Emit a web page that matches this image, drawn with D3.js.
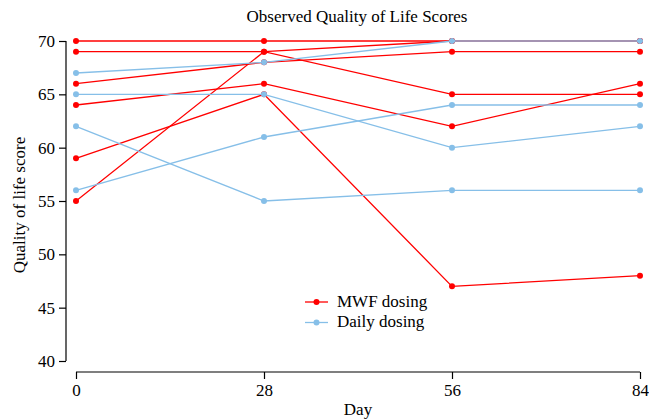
<!DOCTYPE html>
<html>
<head>
<meta charset="utf-8">
<script src="https://cdn.jsdelivr.net/npm/d3@7"></script>
<style>
  body { margin: 0; background: #fff; }
  svg { display: block; font-family: "Liberation Serif", "DejaVu Serif", serif; }
</style>
</head>
<body>
<svg id="chart" width="649" height="420"></svg>
<script>
// Visit days
const days = [0, 28, 56, 84];
const xTicks = [0, 28, 56, 84];
const yTicks = [40, 45, 50, 55, 60, 65, 70];

// Quality of life scores per subject, one array per subject (days 0, 28, 56, 84)
const mwfSubjects = [
  [70, 70, 70, 70],
  [69, 69, 70, 70],
  [55, 69, 65, 65],
  [66, 68, 69, 69],
  [64, 66, 62, 66],
  [59, 65, 47, 48]
];
const dailySubjects = [
  [67, 68, 70, 70],
  [65, 65, 60, 62],
  [62, 55, 56, 56],
  [56, 61, 64, 64]
];

const groups = [
  { name: "MWF dosing", color: "#ff0000", subjects: mwfSubjects },
  { name: "Daily dosing", color: "#86bfe8", subjects: dailySubjects }
];

const FONT = "17px";
const svg = d3.select("#chart");
const x = d3.scaleLinear().domain([0, 84]).range([76, 640]);
const y = d3.scaleLinear().domain([40, 70]).range([361, 41]);

// Y axis (detached from the x axis)
const yAxis = svg.append("g")
  .attr("transform", "translate(66,0)")
  .call(d3.axisLeft(y).tickValues(yTicks).tickSize(7).tickPadding(4).tickFormat(d3.format("d")));
// X axis
const xAxis = svg.append("g")
  .attr("transform", "translate(0,372)")
  .call(d3.axisBottom(x).tickValues(xTicks).tickSize(7).tickPadding(5).tickFormat(d3.format("d")));

[yAxis, xAxis].forEach(g => {
  g.select(".domain").attr("stroke", "#000").attr("stroke-width", 1.2);
  g.selectAll(".tick line").attr("stroke", "#000").attr("stroke-width", 1.2);
  g.selectAll(".tick text").attr("fill", "#000")
    .style("font-family", "Liberation Serif, serif").style("font-size", FONT);
});
// plain axis lines without the outer tick hooks
yAxis.select(".domain").attr("d", `M0,${y(70)}V${y(40)}`);
xAxis.select(".domain").attr("d", `M${x(0)},0H${x(84)}`);

const line = d3.line().x((d, i) => x(days[i])).y(d => y(d));

groups.forEach(gr => {
  const g = svg.append("g");
  gr.subjects.forEach(s => {
    g.append("path").attr("d", line(s))
      .attr("fill", "none").attr("stroke", gr.color).attr("stroke-width", 1.3);
  });
  gr.subjects.forEach(s => {
    g.selectAll(null).data(s).enter().append("circle")
      .attr("cx", (d, i) => x(days[i])).attr("cy", d => y(d))
      .attr("r", 3).attr("fill", gr.color);
  });
});

// Title and axis titles
svg.append("text").attr("x", 357).attr("y", 22).attr("text-anchor", "middle")
  .style("font-size", FONT).text("Observed Quality of Life Scores");
svg.append("text").attr("x", 358).attr("y", 415).attr("text-anchor", "middle")
  .style("font-size", FONT).text("Day");
svg.append("text").attr("transform", "translate(25,205) rotate(-90)").attr("text-anchor", "middle")
  .style("font-size", FONT).text("Quality of life score");

// Legend
const legend = svg.append("g");
groups.forEach((gr, i) => {
  const ly = 302 + i * 20.5;
  legend.append("line").attr("x1", 305).attr("x2", 328).attr("y1", ly).attr("y2", ly)
    .attr("stroke", gr.color).attr("stroke-width", 1.3);
  legend.append("circle").attr("cx", 316.5).attr("cy", ly).attr("r", 3).attr("fill", gr.color);
  legend.append("text").attr("x", 337).attr("y", ly + 4.5)
    .style("font-size", FONT).text(gr.name);
});
</script>
</body>
</html>
